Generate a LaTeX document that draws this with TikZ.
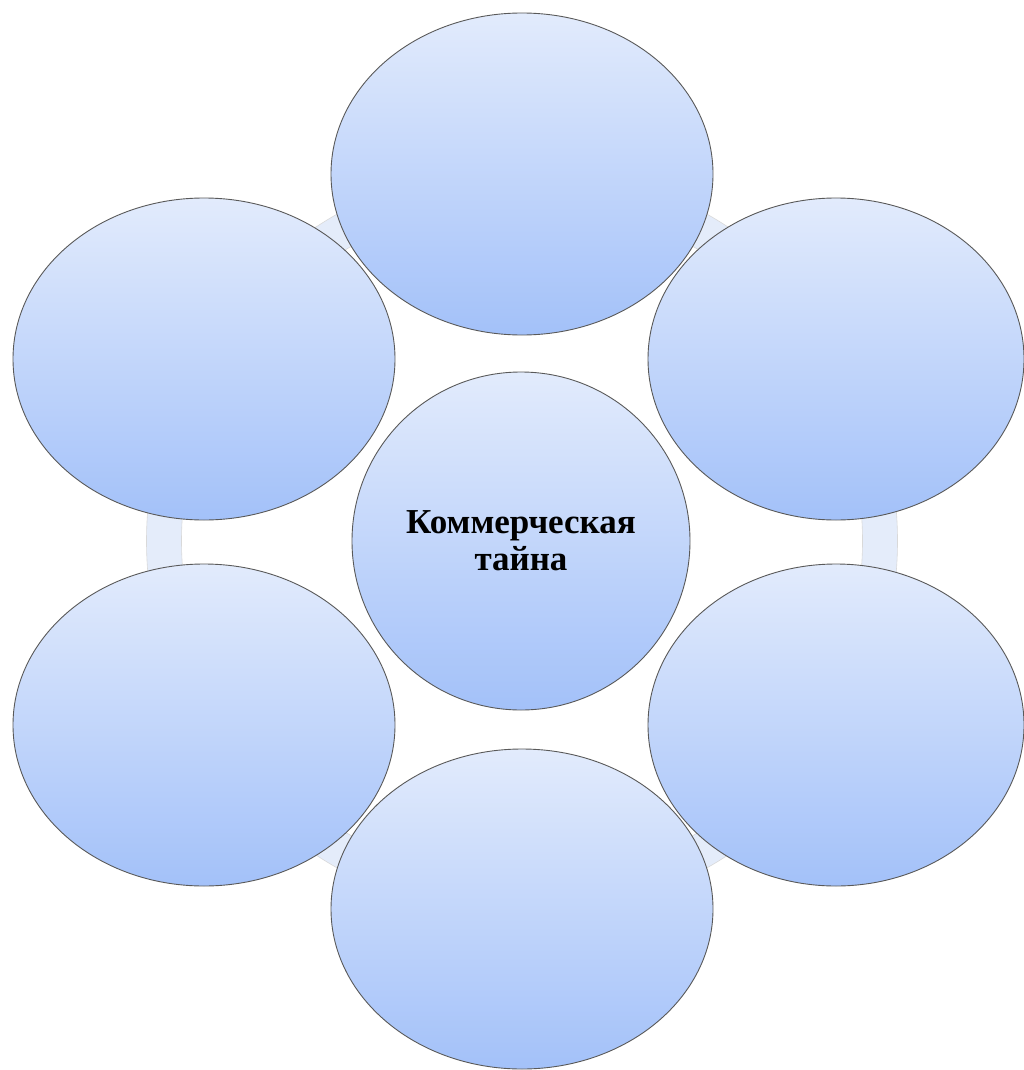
\documentclass[tikz,border=0pt]{standalone}
\usepackage{fontspec}
\setmainfont{Liberation Serif}
\usetikzlibrary{shapes.geometric}

\definecolor{petaltop}{HTML}{E2EBFC}
\definecolor{petalbottom}{HTML}{A3C1F9}
\definecolor{ringfill}{HTML}{E4ECFA}

\tikzset{
    petal/.style={ellipse, draw=black!65, line width=0.9pt, inner sep=0pt,
        top color=petaltop, bottom color=petalbottom,
        minimum width=382pt, minimum height=322pt},
    hub/.style={circle, draw=black!65, line width=0.9pt, inner sep=0pt,
        top color=petaltop, bottom color=petalbottom,
        minimum size=338pt, align=center,
        font=\fontsize{35}{37}\selectfont\bfseries}
}

\begin{document}
\begin{tikzpicture}[x=1pt, y=-1pt]
    \useasboundingbox (0,0) rectangle (1024,1070);

    % ring behind the petals
    \coordinate (ring) at (522,541);
    \draw[ringfill, line width=35pt] (ring) circle[radius=358];
    \draw[black!15, line width=0.6pt] (ring) circle[radius=340.5];
    \draw[black!15, line width=0.6pt] (ring) circle[radius=375.5];

    \node[petal] (top) at (522,174) {};
    \node[petal, minimum width=376pt] (upright) at (836,359) {};
    \node[petal, minimum width=376pt] (lowright) at (836,725) {};
    \node[petal] (upleft) at (204,359) {};
    \node[petal] (lowleft) at (204,725) {};
    \node[petal, minimum height=320pt] (bottom) at (522,909) {};

    \node[hub] (secret) at (521,541) {Коммерческая\\тайна};
\end{tikzpicture}
\end{document}
